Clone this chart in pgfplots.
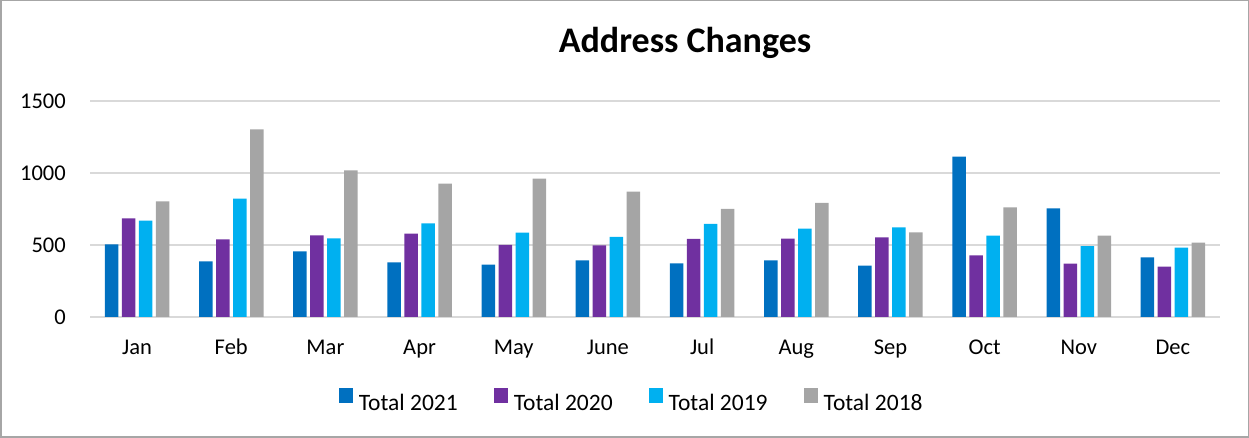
\documentclass[border=0pt]{standalone}
\usepackage{fontspec}
\setmainfont{Carlito}
\usepackage{pgfplots}
\pgfplotsset{compat=1.18}
\definecolor{c21}{HTML}{0070C0}
\definecolor{c20}{HTML}{7030A0}
\definecolor{c19}{HTML}{00B0F0}
\definecolor{c18}{HTML}{A5A5A5}
\definecolor{gridc}{HTML}{D9D9D9}
\definecolor{bordc}{HTML}{A6A6A6}
\begin{document}
\begin{tikzpicture}[x=1pt,y=1pt]
\path[use as bounding box] (0,0) rectangle (1249,438);
\draw[bordc, line width=1.5pt] (0.75,0.75) rectangle (1248.25,437.25);
\node[anchor=base, inner sep=0pt, font=\fontsize{36}{43}\selectfont\bfseries] at (685,385.3) {Address Changes};
\begin{axis}[
  at={(90pt,121pt)}, anchor=south west,
  scale only axis, width=1130pt, height=216pt,
  xmin=-0.5, xmax=11.5, ymin=0, ymax=1500,
  axis line style={draw=none},
  major tick length=0pt,
  ymajorgrids, grid style={draw=gridc, line width=1.3pt},
  xtick={0,1,2,3,4,5,6,7,8,9,10,11},
  xticklabels={Jan,Feb,Mar,Apr,May,June,Jul,Aug,Sep,Oct,Nov,Dec},
  ytick={0,500,1000,1500},
  /pgf/number format/assume math mode=true,
  /pgf/number format/set thousands separator={},
  ticklabel style={font=\fontsize{22.5}{27}\selectfont},
  yticklabel style={anchor=east, inner sep=0pt, xshift=-24pt},
  xticklabel style={anchor=base, inner sep=0pt, yshift=-38pt},
  ybar=3.5pt, bar width=13.5pt,
  clip=false,
  legend columns=4,
  legend style={at={(0.4785,-0.383)}, anchor=center, draw=none, fill=none,
    font=\fontsize{23.5}{28}\selectfont,
    cells={anchor=west},
    nodes={inner sep=0pt},
    /tikz/every odd column/.append style={column sep=6pt},
    /tikz/every even column/.append style={column sep=36pt}},
  legend image code/.code={\fill[#1] (0pt,0pt) rectangle (14pt,15pt);},
]
\addplot[fill=c21, draw=none] coordinates {(0,505) (1,387) (2,456) (3,380) (4,363) (5,394) (6,373) (7,394) (8,356) (9,1113) (10,755) (11,414)};
\addplot[fill=c20, draw=none] coordinates {(0,685) (1,539) (2,567) (3,579) (4,500) (5,498) (6,542) (7,544) (8,553) (9,428) (10,370) (11,350)};
\addplot[fill=c19, draw=none] coordinates {(0,669) (1,822) (2,546) (3,650) (4,586) (5,556) (6,646) (7,613) (8,623) (9,565) (10,493) (11,481)};
\addplot[fill=c18, draw=none] coordinates {(0,803) (1,1303) (2,1019) (3,926) (4,961) (5,870) (6,750) (7,792) (8,588) (9,762) (10,565) (11,516)};
\legend{Total 2021, Total 2020, Total 2019, Total 2018}
\end{axis}
\end{tikzpicture}
\end{document}
